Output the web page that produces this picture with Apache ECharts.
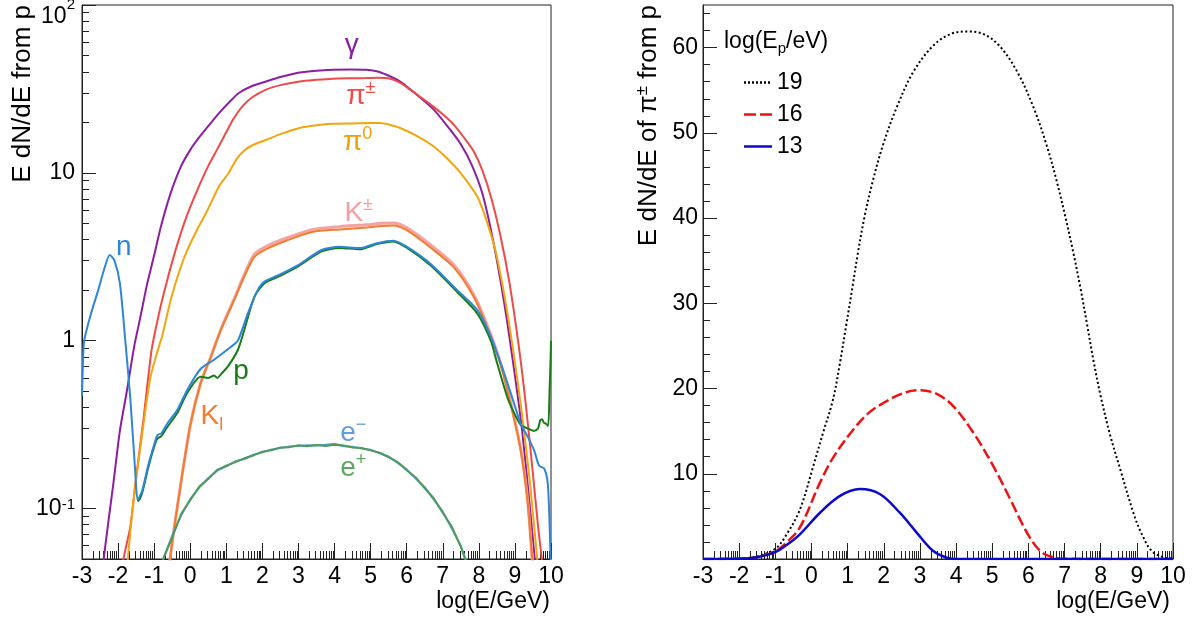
<!DOCTYPE html>
<html>
<head>
<meta charset="utf-8">
<script src="https://cdn.jsdelivr.net/npm/echarts@6/dist/echarts.min.js"></script>
<style>
  html, body { margin: 0; padding: 0; background: #fff; }
  #chart { width: 1195px; height: 623px; }
</style>
</head>
<body>
<div id="chart"></div>
<script>
// ---------- Left panel: secondary particle spectra from a proton shower ----------
const gammaX = [-2.46, -2.40, -2.13, -1.95, -1.75, -1.55, -1.38, -1.2, -1.01, -0.8, -0.54, -0.25, 0.01, 0.24, 0.5, 0.8, 1.1, 1.35, 1.7, 2.1, 2.5, 3.03, 3.5, 3.95, 4.45, 4.89, 5.2, 5.44, 5.82, 6.28, 6.75, 7.21, 7.5, 7.8, 8.1, 8.4, 8.7, 9.0, 9.2, 9.4, 9.55, 9.65];
const gammaY = [0.035, 0.05, 0.141, 0.29, 0.51, 0.93, 1.39, 2.15, 3.16, 4.9, 7.6, 11.0, 13.8, 16.2, 19.0, 22.7, 26.6, 29.9, 32.8, 35.0, 37.2, 39.6, 40.6, 41.1, 41.3, 41.1, 40.2, 38.4, 35.0, 29.2, 23.8, 18.0, 14.8, 11.2, 7.5, 3.9, 1.7, 0.62, 0.29, 0.11, 0.05, 0.03];

const piChX = [-1.92, -1.85, -1.66, -1.52, -1.29, -1.07, -0.85, -0.66, -0.4, -0.10, 0.24, 0.5, 0.74, 1.0, 1.2, 1.44, 1.7, 2.1, 2.5, 3.03, 3.5, 3.95, 4.5, 4.89, 5.2, 5.54, 5.8, 6.0, 6.35, 6.74, 7.0, 7.29, 7.57, 7.86, 8.1, 8.35, 8.6, 8.85, 9.1, 9.3, 9.5, 9.65, 9.77, 9.83];
const piChY = [0.035, 0.05, 0.078, 0.141, 0.35, 0.88, 1.5, 2.2, 3.5, 5.5, 8.3, 11.0, 13.7, 17.5, 21.0, 24.8, 28.0, 31.3, 33.3, 35.0, 35.8, 36.4, 36.6, 36.7, 36.8, 36.4, 34.6, 32.4, 28.6, 24.8, 22.3, 19.5, 16.4, 13.4, 10.3, 7.0, 4.2, 2.2, 0.95, 0.42, 0.16, 0.075, 0.045, 0.03];

const pi0X = [-1.78, -1.73, -1.57, -1.33, -1.10, -0.85, -0.78, -0.54, -0.3, -0.08, 0.24, 0.48, 0.795, 1.04, 1.3, 1.5, 1.75, 2.1, 2.5, 3.03, 3.5, 3.95, 4.5, 5.0, 5.26, 5.5, 5.82, 6.3, 6.74, 7.1, 7.49, 7.96, 8.2, 8.45, 8.7, 8.95, 9.2, 9.42, 9.6, 9.68];
const pi0Y = [0.035, 0.05, 0.112, 0.28, 0.61, 0.95, 1.06, 1.75, 2.6, 3.47, 4.8, 6.0, 8.3, 9.8, 12.2, 13.6, 14.7, 15.7, 17.0, 18.5, 19.2, 19.6, 19.7, 19.8, 19.8, 19.4, 18.5, 16.5, 14.4, 12.3, 10.0, 7.2, 5.3, 3.5, 1.9, 0.88, 0.36, 0.14, 0.055, 0.035];

const kaonX = [-0.62, -0.56, -0.26, 0.01, 0.29, 0.57, 0.85, 1.22, 1.5, 1.78, 2.15, 2.71, 3.4, 4.14, 4.89, 5.3, 5.63, 6.0, 6.65, 7.30, 7.86, 8.23, 8.6, 8.88, 9.16, 9.35, 9.48, 9.55];
const kChY = [0.035, 0.05, 0.141, 0.32, 0.56, 0.80, 1.17, 1.78, 2.48, 3.27, 3.68, 4.12, 4.6, 4.78, 4.9, 5.0, 5.02, 4.72, 3.74, 2.84, 1.88, 1.24, 0.74, 0.43, 0.226, 0.113, 0.05, 0.035];
const kLY = [0.035, 0.05, 0.141, 0.32, 0.56, 0.80, 1.16, 1.75, 2.41, 3.16, 3.55, 3.98, 4.45, 4.6, 4.72, 4.82, 4.85, 4.55, 3.6, 2.74, 1.82, 1.2, 0.72, 0.42, 0.222, 0.111, 0.05, 0.035];

const neutronX = [-3.0, -2.97, -2.94, -2.75, -2.55, -2.4, -2.23, -2.1, -1.95, -1.8, -1.66, -1.52, -1.46, -1.4, -1.33, -1.15, -0.96, -0.9, -0.8, -0.64, -0.36, -0.08, 0.29, 0.66, 1.13, 1.32, 1.6, 1.87, 2.06, 2.52, 2.99, 3.64, 4.14, 4.7, 5.17, 5.63, 6.0, 6.65, 7.4, 7.96, 8.33, 8.7, 8.98, 9.16, 9.35, 9.53, 9.67, 9.81, 9.91, 9.97, 10.0];
const neutronY = [0.47, 0.78, 1.0, 1.45, 2.0, 2.6, 3.24, 3.0, 2.2, 1.0, 0.45, 0.16, 0.112, 0.118, 0.128, 0.186, 0.257, 0.275, 0.28, 0.32, 0.386, 0.51, 0.68, 0.77, 0.92, 1.0, 1.46, 2.0, 2.25, 2.5, 2.82, 3.47, 3.63, 3.56, 3.81, 3.94, 3.63, 2.88, 2.0, 1.52, 1.06, 0.64, 0.42, 0.32, 0.268, 0.223, 0.18, 0.173, 0.141, 0.07, 0.04];

const protonX = [-1.46, -1.4, -1.33, -1.15, -0.96, -0.9, -0.8, -0.64, -0.36, -0.08, 0.29, 0.5, 0.66, 0.75, 0.85, 1.04, 1.32, 1.5, 1.78, 2.06, 2.52, 2.99, 3.64, 4.14, 4.7, 5.17, 5.63, 6.0, 6.65, 7.4, 7.96, 8.33, 8.51, 8.79, 8.98, 9.16, 9.35, 9.53, 9.64, 9.7, 9.75, 9.8, 9.86, 9.92, 9.96, 9.99, 10.0];
const protonY = [0.11, 0.114, 0.124, 0.18, 0.248, 0.262, 0.27, 0.305, 0.37, 0.49, 0.61, 0.6, 0.62, 0.6, 0.63, 0.7, 0.88, 1.16, 1.83, 2.2, 2.45, 2.77, 3.4, 3.57, 3.5, 3.76, 3.9, 3.58, 2.82, 1.95, 1.45, 1.0, 0.73, 0.46, 0.37, 0.315, 0.3, 0.29, 0.3, 0.335, 0.34, 0.325, 0.32, 0.31, 0.5, 0.8, 1.0];

const electronX = [-0.85, -0.75, -0.5, -0.25, 0, 0.25, 0.5, 0.75, 1, 1.25, 1.5, 1.75, 2, 2.25, 2.5, 2.75, 3, 3.25, 3.5, 3.75, 4, 4.25, 4.5, 4.75, 5, 5.25, 5.5, 5.75, 6, 6.25, 6.5, 6.75, 7, 7.25, 7.5, 7.75];
const eMinusY = [0.04, 0.050, 0.069, 0.091, 0.114, 0.133, 0.152, 0.168, 0.178, 0.191, 0.197, 0.209, 0.216, 0.225, 0.229, 0.234, 0.236, 0.238, 0.237, 0.240, 0.243, 0.235, 0.233, 0.228, 0.224, 0.213, 0.204, 0.187, 0.171, 0.151, 0.134, 0.113, 0.096, 0.076, 0.060, 0.042];
const ePlusY = [0.04, 0.050, 0.067, 0.093, 0.112, 0.135, 0.150, 0.170, 0.180, 0.189, 0.199, 0.207, 0.218, 0.222, 0.231, 0.232, 0.238, 0.235, 0.239, 0.236, 0.240, 0.237, 0.231, 0.229, 0.222, 0.215, 0.202, 0.189, 0.169, 0.153, 0.132, 0.115, 0.094, 0.078, 0.059, 0.042];

// ---------- Right panel: charged-pion spectra for three primary energies ----------
const ep19X = [-3, -2, -1.5, -1.0, -0.7, -0.32, 0.05, 0.32, 0.59, 0.78, 0.96, 1.13, 1.28, 1.47, 1.70, 1.98, 2.35, 2.81, 3.36, 3.85, 4.3, 4.75, 5.2, 5.7, 6.15, 6.5, 6.78, 7.02, 7.24, 7.44, 7.62, 7.8, 8.0, 8.27, 8.55, 8.92, 9.15, 9.4, 9.7, 10];
const ep19Y = [0, 0.05, 0.3, 1.2, 2.8, 5.8, 10.9, 14.8, 18.6, 22.8, 27.4, 31.8, 35.8, 40.2, 44.4, 48.6, 52.9, 57.1, 60.2, 61.6, 61.9, 61.6, 60.2, 57.1, 52.9, 48.6, 44.4, 40.2, 36.0, 31.8, 27.6, 23.3, 19.1, 14.4, 10.4, 5.2, 2.8, 1.0, 0.25, 0.05];
const ep16X = [-3, -2, -1.5, -1.0, -0.7, -0.32, 0.23, 0.60, 1.16, 1.6, 1.99, 2.5, 2.95, 3.45, 3.93, 4.48, 5.03, 5.50, 5.96, 6.33, 6.69, 7.0, 10];
const ep16Y = [0, 0.05, 0.25, 0.9, 1.9, 3.7, 8.9, 11.9, 15.2, 17.2, 18.3, 19.4, 19.8, 19.4, 17.9, 14.8, 10.9, 7.0, 3.1, 0.93, 0.2, 0.02, 0];
const ep13X = [-3, -2, -1.5, -1.0, -0.7, -0.32, 0.23, 0.79, 1.34, 1.90, 2.45, 2.91, 3.37, 3.74, 4.0, 10];
const ep13Y = [0, 0.03, 0.2, 0.8, 1.6, 2.9, 5.4, 7.4, 8.2, 7.6, 5.4, 3.1, 0.93, 0.15, 0, 0];

// ---------- Axis ticks and labels ----------
const logMajorTicks = [0.1, 1, 10, 100];
const logMinorTicks = [0.06, 0.07, 0.08, 0.09, 0.2, 0.3, 0.4, 0.5, 0.6, 0.7, 0.8, 0.9, 2, 3, 4, 5, 6, 7, 8, 9, 20, 30, 40, 50, 60, 70, 80, 90];
const linMajorTicks = [0, 10, 20, 30, 40, 50, 60];
const linLabels = [10, 20, 30, 40, 50, 60];
const linMinorTicks = [2, 4, 6, 8, 12, 14, 16, 18, 22, 24, 26, 28, 32, 34, 36, 38, 42, 44, 46, 48, 52, 54, 56, 58, 62, 64];
const legendNames = ['19', '16', '13'];

// curve name labels: [x, y, text]
const curveLabels = {
  gamma: [4.48, 57.5, '{b|γ}'],
  piCh:  [4.73, 28.6, '{b|π}{s|±}'],
  pi0:   [4.64, 15.3, '{b|π}{s|0}'],
  kCh:   [4.67, 5.77, '{b|K}{s|±}'],
  kL:    [0.60, 0.353, '{b|K}{d|l}'],
  n:     [-1.84, 3.60, '{b|n}'],
  p:     [1.41, 0.655, '{b|p}'],
  eMinus:[4.52, 0.282, '{b|e}{s|−}'],
  ePlus: [4.52, 0.174, '{b|e}{s|+}']
};

const FONT = '"Liberation Sans", Arial, Helvetica, sans-serif';
const AX = '#222';

// minor ticks of a log10(E) axis sit at n + log10(k), k = 2..9
const xMinorTicks = [];
for (let n = -3; n < 10; n++) {
  for (let k = 2; k <= 9; k++) xMinorTicks.push(+(n + Math.log10(k)).toFixed(4));
}

function pairs(xs, ys) { return xs.map((x, i) => [x, ys[i]]); }

const labelRich = {
  b: { fontSize: 28, fontFamily: FONT, lineHeight: 34 },
  s: { fontSize: 18, fontFamily: FONT, verticalAlign: 'top', lineHeight: 18 },
  d: { fontSize: 18, fontFamily: FONT, verticalAlign: 'bottom', lineHeight: 18 }
};

function curve(name, xs, ys, color, width, lab, z, smooth) {
  const s = {
    name: name, type: 'line', xAxisIndex: 0, yAxisIndex: 0,
    data: pairs(xs, ys), showSymbol: false, symbol: 'none',
    smooth: smooth === undefined ? 0.25 : smooth, clip: true, z: z,
    lineStyle: { color: color, width: width },
    itemStyle: { color: color },
    silent: true, animation: false
  };
  if (lab) {
    s.markPoint = {
      silent: true, animation: false,
      symbol: 'circle', symbolSize: 1,
      itemStyle: { color: 'rgba(0,0,0,0)' },
      label: { show: true, position: 'inside', color: lab.color || color, formatter: lab.text, rich: labelRich },
      data: [{ coord: [lab.x, lab.y] }]
    };
  }
  return s;
}

function lab(key, color) {
  const l = curveLabels[key];
  return { x: l[0], y: l[1], text: l[2], color: color };
}

function xAxisPair(gridIndex) {
  return [
    {
      type: 'value', gridIndex: gridIndex, min: -3, max: 10, interval: 1, position: 'bottom',
      axisLine: { show: true, onZero: false, lineStyle: { color: AX, width: 1 } },
      axisTick: { show: true, inside: true, length: 16, lineStyle: { color: AX, width: 1 } },
      axisLabel: { show: true, fontSize: 23, fontFamily: FONT, color: '#000', margin: 6 },
      splitLine: { show: false }
    },
    {
      type: 'value', gridIndex: gridIndex, min: -3, max: 10, position: 'bottom',
      axisLine: { show: false, onZero: false },
      axisTick: { show: true, inside: true, length: 8, customValues: xMinorTicks, lineStyle: { color: AX, width: 1 } },
      axisLabel: { show: false },
      splitLine: { show: false }
    }
  ];
}

// legend samples: dotted, dashed and solid strokes
const legendIcons = {
  '19': 'path://M0,0h2v2.5h-2z M4,0h2v2.5h-2z M8,0h2v2.5h-2z M12,0h2v2.5h-2z M16,0h2v2.5h-2z M20,0h2v2.5h-2z M24,0h2v2.5h-2z M28,0h0.01v2.5h-0.01z',
  '16': 'path://M0,0h12v2.5h-12z M16,0h12v2.5h-12z',
  '13': 'path://M0,0h28v2.5h-28z'
};

const option = {
  animation: false,
  backgroundColor: '#fff',
  textStyle: { fontFamily: FONT },
  grid: [
    { left: 82, top: 5, width: 469, height: 554, show: true, borderColor: AX, borderWidth: 1, backgroundColor: 'transparent', outerBoundsMode: 'none', containLabel: false },
    { left: 703, top: 5, width: 470, height: 554, show: true, borderColor: AX, borderWidth: 1, backgroundColor: 'transparent', outerBoundsMode: 'none', containLabel: false }
  ],
  xAxis: xAxisPair(0).concat(xAxisPair(1)),
  yAxis: [
    {
      type: 'log', logBase: 10, gridIndex: 0, min: 0.05, max: 100, position: 'left',
      axisLine: { show: true, onZero: false, lineStyle: { color: AX, width: 1 } },
      axisTick: { show: true, inside: true, length: 14, customValues: logMajorTicks, lineStyle: { color: AX, width: 1 } },
      axisLabel: {
        show: true, customValues: logMajorTicks, margin: 7, color: '#000', fontFamily: FONT, fontSize: 23,
        formatter: function (v) {
          if (Math.abs(v - 100) < 1e-6) return '{tb|10}{ts|2}';
          if (Math.abs(v - 0.1) < 1e-9) return '{b|10}{s|-1}';
          return '{b|' + Math.round(v) + '}';
        },
        rich: {
          b: { fontSize: 23, fontFamily: FONT, color: '#000' },
          s: { fontSize: 15, fontFamily: FONT, color: '#000', verticalAlign: 'top' },
          tb: { fontSize: 23, fontFamily: FONT, color: '#000', padding: [24, 0, 0, 0] },
          ts: { fontSize: 15, fontFamily: FONT, color: '#000', verticalAlign: 'top', padding: [16, 0, 0, 0] }
        }
      },
      splitLine: { show: false }
    },
    {
      type: 'log', logBase: 10, gridIndex: 0, min: 0.05, max: 100, position: 'left',
      axisLine: { show: false, onZero: false },
      axisTick: { show: true, inside: true, length: 7, customValues: logMinorTicks, lineStyle: { color: AX, width: 1 } },
      axisLabel: { show: false },
      splitLine: { show: false }
    },
    {
      type: 'value', gridIndex: 1, min: 0, max: 65, position: 'left',
      axisLine: { show: true, onZero: false, lineStyle: { color: AX, width: 1 } },
      axisTick: { show: true, inside: true, length: 14, customValues: linMajorTicks, lineStyle: { color: AX, width: 1 } },
      axisLabel: { show: true, customValues: linLabels, margin: 5, color: '#000', fontFamily: FONT, fontSize: 23 },
      splitLine: { show: false }
    },
    {
      type: 'value', gridIndex: 1, min: 0, max: 65, position: 'left',
      axisLine: { show: false, onZero: false },
      axisTick: { show: true, inside: true, length: 7, customValues: linMinorTicks, lineStyle: { color: AX, width: 1 } },
      axisLabel: { show: false },
      splitLine: { show: false }
    }
  ],
  legend: {
    data: legendNames.map(n => ({ name: n, icon: legendIcons[n] })),
    orient: 'vertical', left: 739, top: 66,
    itemWidth: 28, itemHeight: 14, itemGap: 9, symbolKeepAspect: true,
    textStyle: { fontSize: 23, fontFamily: FONT, color: '#000' },
    selectedMode: false
  },
  series: [
    curve('γ', gammaX, gammaY, '#8c1ea0', 2, lab('gamma', '#8c1ea0'), 2),
    curve('π±', piChX, piChY, '#ef4a48', 2, lab('piCh', '#ef4a48'), 3),
    curve('π0', pi0X, pi0Y, '#f2a50c', 2, lab('pi0', '#f0a000'), 4),
    curve('K±', kaonX, kChY, '#f4a3a3', 3, lab('kCh', '#f3a0a0'), 5),
    curve('KL', kaonX, kLY, '#f47c2c', 2, lab('kL', '#f47c2c'), 6),
    curve('p', protonX, protonY, '#177d17', 2, lab('p', '#1a7a1a'), 7),
    curve('n', neutronX, neutronY, '#2e86d8', 2, lab('n', '#2e86d8'), 8),
    curve('e-', electronX, eMinusY, '#5b9ee0', 2, lab('eMinus', '#5d9de0'), 9, false),
    curve('e+', electronX, ePlusY, '#4f9a55', 2, lab('ePlus', '#5ea65e'), 10, false),
    {
      name: '19', type: 'line', xAxisIndex: 2, yAxisIndex: 2, data: pairs(ep19X, ep19Y),
      showSymbol: false, symbol: 'none', smooth: 0.35, clip: true, z: 3,
      lineStyle: { color: '#000', width: 2, type: [2, 2.5] }, itemStyle: { color: '#000' }
    },
    {
      name: '16', type: 'line', xAxisIndex: 2, yAxisIndex: 2, data: pairs(ep16X, ep16Y),
      showSymbol: false, symbol: 'none', smooth: 0.35, clip: true, z: 4,
      lineStyle: { color: '#ee1111', width: 2.5, type: [11, 4] }, itemStyle: { color: '#ee1111' }
    },
    {
      name: '13', type: 'line', xAxisIndex: 2, yAxisIndex: 2, data: pairs(ep13X, ep13Y),
      showSymbol: false, symbol: 'none', smooth: 0.35, clip: true, z: 5,
      lineStyle: { color: '#0a0acc', width: 2.5 }, itemStyle: { color: '#0a0acc' }
    }
  ],
  graphic: [
    {
      type: 'text', x: 23, y: 5, rotation: Math.PI / 2, silent: true,
      style: { text: 'E dN/dE from p', font: '26px ' + FONT, fill: '#000', align: 'right', verticalAlign: 'middle' }
    },
    {
      type: 'text', x: 649, y: 5, rotation: Math.PI / 2, silent: true,
      style: {
        text: '{b|E dN/dE of π}{s|±}{b| from p}', fill: '#000', align: 'right', verticalAlign: 'middle',
        rich: {
          b: { fontSize: 26, fontFamily: FONT, fill: '#000', lineHeight: 30 },
          s: { fontSize: 17, fontFamily: FONT, fill: '#000', verticalAlign: 'top', lineHeight: 17 }
        }
      }
    },
    {
      type: 'text', x: 550, y: 602, silent: true,
      style: { text: 'log(E/GeV)', font: '23px ' + FONT, fill: '#000', align: 'right', verticalAlign: 'middle' }
    },
    {
      type: 'text', x: 1170, y: 602, silent: true,
      style: { text: 'log(E/GeV)', font: '23px ' + FONT, fill: '#000', align: 'right', verticalAlign: 'middle' }
    },
    {
      type: 'text', x: 724, y: 42, silent: true,
      style: {
        text: '{b|log(E}{d|p}{b|/eV)}', fill: '#000', align: 'left', verticalAlign: 'middle',
        rich: {
          b: { fontSize: 23, fontFamily: FONT, fill: '#000', lineHeight: 28 },
          d: { fontSize: 15, fontFamily: FONT, fill: '#000', verticalAlign: 'bottom', lineHeight: 15 }
        }
      }
    }
  ]
};

const chart = echarts.init(document.getElementById('chart'), null, { renderer: 'canvas' });
chart.setOption(option);
</script>
</body>
</html>
